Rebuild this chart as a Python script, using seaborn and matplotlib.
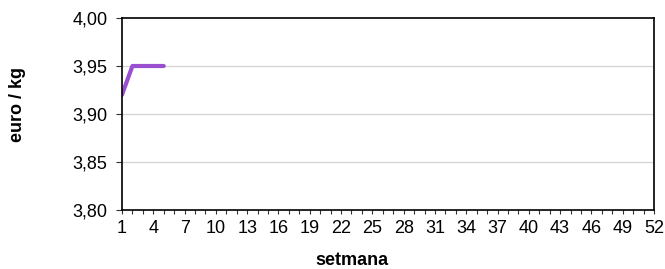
import numpy as np
import pandas as pd
import matplotlib
matplotlib.use("Agg")
import matplotlib.pyplot as plt
import seaborn as sns

# data
weeks = [1, 2, 3, 4, 5]
prices = [3.92, 3.95, 3.95, 3.95, 3.95]
xtick_labels = list(range(1, 53, 3))
ytick_values = [3.80, 3.85, 3.90, 3.95, 4.00]

df = pd.DataFrame({"setmana": weeks, "preu": prices})

sns.set_style("white")
plt.rcParams['font.family'] = ['Liberation Sans', 'DejaVu Sans']
plt.rcParams['text.color'] = 'black'
plt.rcParams['axes.labelcolor'] = 'black'
plt.rcParams['xtick.color'] = 'black'
plt.rcParams['ytick.color'] = 'black'

fig = plt.figure(figsize=(6.65, 2.69), dpi=100)
ax = fig.add_axes([122/665, 1 - 210/269, 532/665, 192/269])

sns.lineplot(data=df, x="setmana", y="preu", color="#9950D0", linewidth=3, ax=ax)

ax.set_xlim(1, 52)
ax.set_ylim(3.80, 4.00)
ax.set_xticks(xtick_labels)
ax.set_xticks(range(1, 53), minor=True)
ax.set_xticklabels([str(v) for v in xtick_labels], fontsize=13)
ax.set_yticks(ytick_values)
ax.set_yticklabels([f"{v:.2f}".replace(".", ",") for v in ytick_values], fontsize=13)

ax.tick_params(axis="x", which="both", direction="out", length=3, width=0.8, color="#333333", bottom=True, pad=4)
ax.tick_params(axis="y", which="major", direction="out", length=4, width=0.8, color="#333333", left=True, pad=6.5)

for v in ytick_values[1:-1]:
    ax.axhline(v, color="#d4d4d4", linewidth=0.9, zorder=0)

for s in ax.spines.values():
    s.set_color("black")
    s.set_linewidth(1.2)
    s.set_visible(True)

ax.set_xlabel("setmana", fontsize=13, fontweight="bold", va="baseline")
ax.xaxis.set_label_coords(0.4314, -0.284)
ax.set_ylabel("euro / kg", fontsize=13, fontweight="bold", va="center", ha="center")
ax.yaxis.set_label_coords(-0.1964, 0.547)

fig.savefig("out.png", dpi=100)
